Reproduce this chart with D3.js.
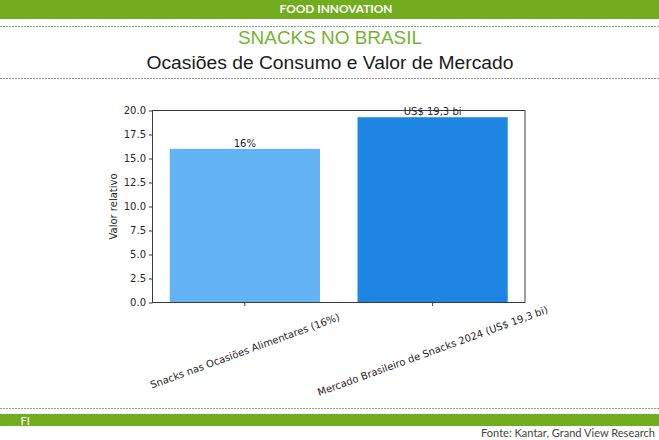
<!DOCTYPE html>
<html>
<meta charset="utf-8">
<title>Snacks no Brasil</title>
<style>
	body {
		margin: 0;
		background-color: #ffffff;
	}
	.tick text {
		font: 10px "DejaVu Sans";
		fill: #262626;
	}
	.mpl {
		font-family: "DejaVu Sans";
		fill: #262626;
	}
</style>

<body>
	<div id="chart"></div>
</body>

<script src="https://cdnjs.cloudflare.com/ajax/libs/d3/7.8.5/d3.min.js"></script>
<script>

	// Data
	var categories = ["Snacks nas Ocasiões Alimentares (16%)", "Mercado Brasileiro de Snacks 2024 (US$ 19,3 bi)"];
	var values = [16, 19.3];
	var valueLabels = ["16%", "US$ 19,3 bi"];
	var barColors = ["#63b3f5", "#1e86e2"];
	var yTicks = [0, 2.5, 5, 7.5, 10, 12.5, 15, 17.5, 20];

	var pageWidth = 659, pageHeight = 440;
	var green = "#71ad1e";

	var svg = d3.select("#chart").append("svg")
		.attr("width", pageWidth)
		.attr("height", pageHeight);

	// Header band
	svg.append("rect")
		.attr("x", 0).attr("y", 0)
		.attr("width", pageWidth).attr("height", 19)
		.style("fill", green);

	svg.append("text")
		.attr("x", 279.5).attr("y", 12.7)
		.attr("textLength", 113)
		.attr("lengthAdjust", "spacingAndGlyphs")
		.style("font", "bold 10.5px Lato")
		.style("fill", "#ffffff")
		.text("FOOD INNOVATION");

	// Dotted separators
	[26.5, 78.5, 408.5].forEach(function (yy) {
		svg.append("line")
			.attr("x1", 0).attr("x2", pageWidth)
			.attr("y1", yy).attr("y2", yy)
			.attr("stroke", "#9a9a9a")
			.attr("stroke-width", 1)
			.attr("stroke-dasharray", "2,1");
	});

	// Titles (the source image is slightly stretched sideways)
	svg.append("text")
		.attr("x", 238).attr("y", 44)
		.attr("textLength", 184)
		.attr("lengthAdjust", "spacingAndGlyphs")
		.style("font", "17.5px 'Liberation Sans'")
		.style("fill", "#74b32f")
		.text("SNACKS NO BRASIL");

	svg.append("text")
		.attr("x", 146.5).attr("y", 69)
		.attr("textLength", 367)
		.attr("lengthAdjust", "spacingAndGlyphs")
		.style("font", "17.5px 'Liberation Sans'")
		.style("fill", "#1a1a1a")
		.text("Ocasiões de Consumo e Valor de Mercado");

	// Plot area
	var plot = { left: 152.5, right: 525, top: 110.5, bottom: 302.5 };

	var xScale = d3.scaleBand()
		.domain(categories)
		.range([plot.left, plot.right])
		.paddingInner(0.2)
		.paddingOuter(0.092);

	var yScale = d3.scaleLinear()
		.domain([0, 20])
		.range([plot.bottom, plot.top]);

	var g = svg.append("g");

	// Bars
	g.selectAll(".bar")
		.data(values).enter().append("rect")
		.attr("class", "bar")
		.attr("x", function (d, i) { return xScale(categories[i]); })
		.attr("y", function (d) { return yScale(d); })
		.attr("width", xScale.bandwidth())
		.attr("height", function (d) { return yScale(0) - yScale(d); })
		.style("fill", function (d, i) { return barColors[i]; });

	// Frame (spines)
	g.append("rect")
		.attr("x", plot.left).attr("y", plot.top)
		.attr("width", plot.right - plot.left)
		.attr("height", plot.bottom - plot.top)
		.attr("fill", "none")
		.attr("stroke", "#3a3a3a")
		.attr("stroke-width", 1);

	// Axes
	var yAxis = d3.axisLeft(yScale)
		.tickValues(yTicks)
		.tickFormat(d3.format(".1f"))
		.tickSizeOuter(0)
		.tickSize(3.5)
		.tickPadding(3);

	var yG = g.append("g")
		.attr("transform", "translate(" + plot.left + ",0)")
		.call(yAxis);
	yG.select(".domain").remove();
	yG.selectAll(".tick line").attr("stroke", "#3a3a3a");

	var xAxis = d3.axisBottom(xScale)
		.tickSizeOuter(0)
		.tickSize(3.5)
		.tickFormat("");

	var xG = g.append("g")
		.attr("transform", "translate(0," + plot.bottom + ")")
		.call(xAxis);
	xG.select(".domain").remove();
	xG.selectAll(".tick line").attr("stroke", "#3a3a3a");

	// Rotated category labels
	g.selectAll(".cat-label")
		.data(categories).enter().append("text")
		.attr("class", "cat-label mpl")
		.attr("text-anchor", "middle")
		.attr("dy", "0.35em")
		.style("font-size", "10px")
		.attr("transform", function (d) {
			return "translate(" + (xScale(d) + xScale.bandwidth() / 2) + ",351) rotate(-20)";
		})
		.text(function (d) { return d; });

	// Value labels above bars
	g.selectAll(".val-label")
		.data(values).enter().append("text")
		.attr("class", "val-label mpl")
		.attr("text-anchor", "middle")
		.attr("x", function (d, i) { return xScale(categories[i]) + xScale.bandwidth() / 2; })
		.attr("y", function (d) { return yScale(d) - 2; })
		.style("font-size", "10px")
		.text(function (d, i) { return valueLabels[i]; });

	// Y label
	g.append("text")
		.attr("class", "mpl")
		.attr("text-anchor", "middle")
		.attr("transform", "translate(117," + ((plot.top + plot.bottom) / 2) + ") rotate(-90)")
		.style("font-size", "10px")
		.text("Valor relativo");

	// Footer band
	svg.append("rect")
		.attr("x", 0).attr("y", 414)
		.attr("width", pageWidth).attr("height", 12)
		.style("fill", green);

	svg.append("text")
		.attr("x", 20.5).attr("y", 425)
		.style("font", "11px Lato")
		.style("fill", "#ffffff")
		.text("FI");

	svg.append("text")
		.attr("x", 481).attr("y", 437)
		.attr("textLength", 174)
		.attr("lengthAdjust", "spacingAndGlyphs")
		.style("font", "11px Lato")
		.style("fill", "#444444")
		.text("Fonte: Kantar, Grand View Research");

</script>
</html>
